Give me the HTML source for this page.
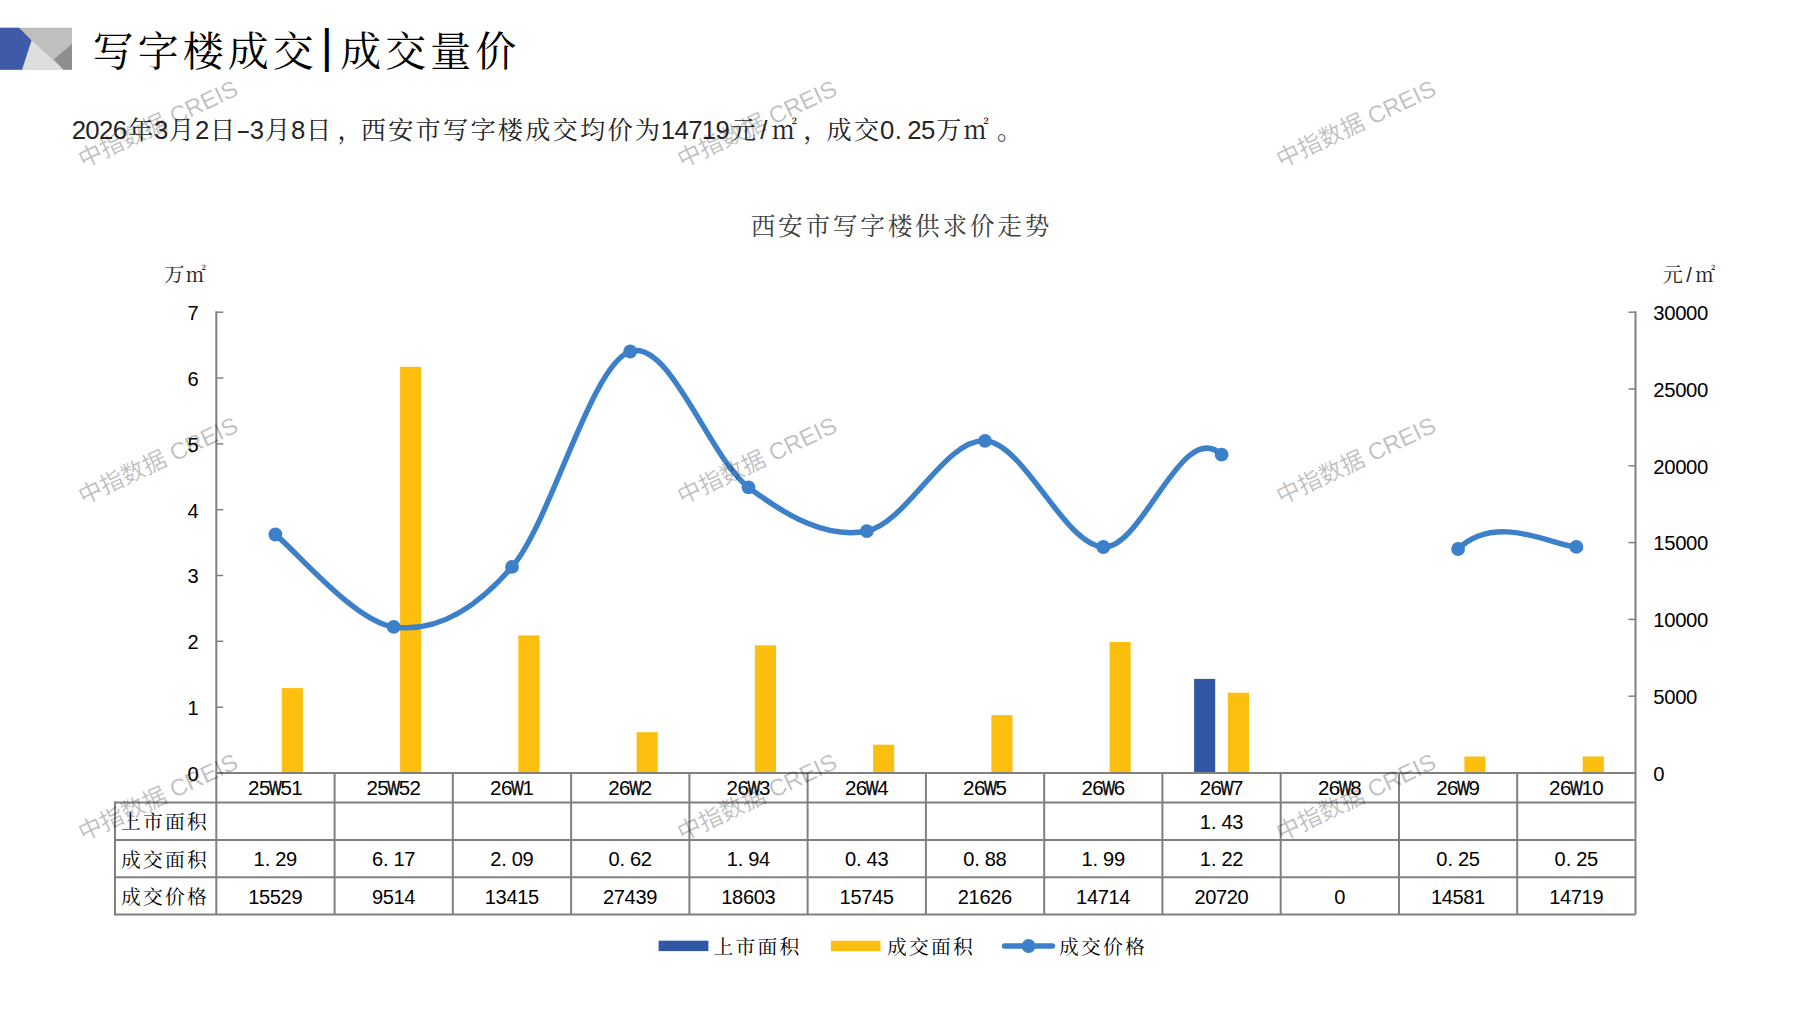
<!DOCTYPE html>
<html lang="zh-CN"><head><meta charset="utf-8"><title>写字楼成交|成交量价</title>
<style>html,body{margin:0;padding:0;background:#fff;}body{width:1797px;height:1010px;overflow:hidden;}svg{display:block;}</style>
</head><body>
<svg width="1797" height="1010" viewBox="0 0 1797 1010">
<rect width="1797" height="1010" fill="#ffffff"/>
<g id="logo">
<rect x="0" y="27.7" width="72" height="42.1" fill="#BFBFBF"/>
<polygon points="31.5,40.2 63.6,69.8 22,69.8" fill="#DEDEDE"/>
<polygon points="72,43.8 53.8,59.5 63.6,69.8 72,69.8" fill="#8E8E8E"/>
<polygon points="0,27.7 19,27.7 31.5,40.2 22,69.8 0,69.8" fill="#3F5AA6"/>
</g>
<g id="title">
<text x="326.9" y="61.5" font-family='"Liberation Sans", "Noto Sans CJK SC", sans-serif' font-size="46.80" fill="#000000" text-anchor="middle">|</text>
<text x="113.1 158.1 203.1 248.1 293.1 360.6 405.6 450.6 495.6" y="65.5" font-family='"Liberation Serif", "Noto Serif CJK SC", serif' font-size="40.95" fill="#000000" text-anchor="middle">写字楼成交成交量价</text>
</g>
<g id="subtitle">
<text transform="translate(243.2,139.0) scale(1.7,1)" font-family='"Liberation Sans", "Noto Sans CJK SC", sans-serif' font-size="25.76" fill="#262626" text-anchor="middle">-</text>
<text x="140.5 181.6 222.7 277.5 318.6 350.1 373.4 400.8 428.2 455.6 483.0 510.4 537.8 565.2 592.6 620.0 647.4 743.3 784.4 815.9 839.2 866.6 948.8 976.2 1009.6" y="139.0" font-family='"Liberation Serif", "Noto Serif CJK SC", serif' font-size="25.21" fill="#262626" text-anchor="middle">年月日月日，西安市写字楼成交均价为元㎡，成交万㎡。</text>
<text x="78.8 92.5 106.2 120.0 161.1 202.2 256.9 298.1 667.9 681.6 695.3 709.0 722.7 763.8 887.1 898.3 914.5 928.2" y="139.0" font-family='"Liberation Sans", "Noto Sans CJK SC", sans-serif' font-size="25.76" fill="#262626" text-anchor="middle">2026323814719/0.25</text>
</g>
<g id="chart-title">
<text x="763.0 790.4 817.8 845.2 872.6 900.0 927.4 954.8 982.2 1009.6 1037.0" y="235.0" font-family='"Liberation Serif", "Noto Serif CJK SC", serif' font-size="24.66" fill="#404040" text-anchor="middle">西安市写字楼供求价走势</text>
</g>
<text x="174.3 195.9" y="282.0" font-family='"Liberation Serif", "Noto Serif CJK SC", serif' font-size="20.09" fill="#262626" text-anchor="middle">万㎡</text>
<text x="1672.8 1705.2" y="282.0" font-family='"Liberation Serif", "Noto Serif CJK SC", serif' font-size="20.09" fill="#262626" text-anchor="middle">元㎡</text>
<text x="1689.0" y="282.0" font-family='"Liberation Sans", "Noto Sans CJK SC", sans-serif' font-size="20.09" fill="#262626" text-anchor="middle">/</text>
<g id="bars">
<rect x="281.8" y="688.1" width="21.1" height="84.9" fill="#FDBF0F"/>
<rect x="400.1" y="366.8" width="21.1" height="406.2" fill="#FDBF0F"/>
<rect x="518.3" y="635.4" width="21.1" height="137.6" fill="#FDBF0F"/>
<rect x="636.6" y="732.2" width="21.1" height="40.8" fill="#FDBF0F"/>
<rect x="754.9" y="645.3" width="21.1" height="127.7" fill="#FDBF0F"/>
<rect x="873.1" y="744.7" width="21.1" height="28.3" fill="#FDBF0F"/>
<rect x="991.4" y="715.1" width="21.1" height="57.9" fill="#FDBF0F"/>
<rect x="1109.6" y="642.0" width="21.1" height="131.0" fill="#FDBF0F"/>
<rect x="1194.1" y="678.9" width="21.1" height="94.1" fill="#2F57A4"/>
<rect x="1227.9" y="692.7" width="21.1" height="80.3" fill="#FDBF0F"/>
<rect x="1464.4" y="756.5" width="21.1" height="16.5" fill="#FDBF0F"/>
<rect x="1582.7" y="756.5" width="21.1" height="16.5" fill="#FDBF0F"/>
</g>
<g id="grid" stroke="#808080" stroke-width="2" fill="none">
<line x1="216.3" y1="311.2" x2="216.3" y2="914.5"/>
<line x1="1635.5" y1="311.2" x2="1635.5" y2="914.5"/>
<line x1="216.3" y1="773.0" x2="1635.5" y2="773.0"/>
<line x1="115.0" y1="802.5" x2="1635.5" y2="802.5"/>
<line x1="115.0" y1="840.0" x2="1635.5" y2="840.0"/>
<line x1="115.0" y1="877.3" x2="1635.5" y2="877.3"/>
<line x1="115.0" y1="914.5" x2="1635.5" y2="914.5"/>
<line x1="115" y1="801.5" x2="115" y2="915.5"/>
<line x1="334.6" y1="773.0" x2="334.6" y2="914.5"/>
<line x1="452.8" y1="773.0" x2="452.8" y2="914.5"/>
<line x1="571.1" y1="773.0" x2="571.1" y2="914.5"/>
<line x1="689.4" y1="773.0" x2="689.4" y2="914.5"/>
<line x1="807.6" y1="773.0" x2="807.6" y2="914.5"/>
<line x1="925.9" y1="773.0" x2="925.9" y2="914.5"/>
<line x1="1044.2" y1="773.0" x2="1044.2" y2="914.5"/>
<line x1="1162.4" y1="773.0" x2="1162.4" y2="914.5"/>
<line x1="1280.7" y1="773.0" x2="1280.7" y2="914.5"/>
<line x1="1399.0" y1="773.0" x2="1399.0" y2="914.5"/>
<line x1="1517.2" y1="773.0" x2="1517.2" y2="914.5"/>
</g>
<g id="ticks" stroke="#808080" stroke-width="1.5">
<line x1="216.3" y1="773.0" x2="223.3" y2="773.0"/>
<line x1="216.3" y1="707.2" x2="223.3" y2="707.2"/>
<line x1="216.3" y1="641.3" x2="223.3" y2="641.3"/>
<line x1="216.3" y1="575.5" x2="223.3" y2="575.5"/>
<line x1="216.3" y1="509.7" x2="223.3" y2="509.7"/>
<line x1="216.3" y1="443.9" x2="223.3" y2="443.9"/>
<line x1="216.3" y1="378.0" x2="223.3" y2="378.0"/>
<line x1="216.3" y1="312.2" x2="223.3" y2="312.2"/>
<line x1="1628.5" y1="773.0" x2="1635.5" y2="773.0"/>
<line x1="1628.5" y1="696.2" x2="1635.5" y2="696.2"/>
<line x1="1628.5" y1="619.4" x2="1635.5" y2="619.4"/>
<line x1="1628.5" y1="542.6" x2="1635.5" y2="542.6"/>
<line x1="1628.5" y1="465.8" x2="1635.5" y2="465.8"/>
<line x1="1628.5" y1="389.0" x2="1635.5" y2="389.0"/>
<line x1="1628.5" y1="312.2" x2="1635.5" y2="312.2"/>
</g>
<g id="axis-labels">
<text x="193.1" y="780.8" font-family='"Liberation Sans", "Noto Sans CJK SC", sans-serif' font-size="20.09" fill="#000000" text-anchor="middle">0</text>
<text x="193.1" y="715.0" font-family='"Liberation Sans", "Noto Sans CJK SC", sans-serif' font-size="20.09" fill="#000000" text-anchor="middle">1</text>
<text x="193.1" y="649.1" font-family='"Liberation Sans", "Noto Sans CJK SC", sans-serif' font-size="20.09" fill="#000000" text-anchor="middle">2</text>
<text x="193.1" y="583.3" font-family='"Liberation Sans", "Noto Sans CJK SC", sans-serif' font-size="20.09" fill="#000000" text-anchor="middle">3</text>
<text x="193.1" y="517.5" font-family='"Liberation Sans", "Noto Sans CJK SC", sans-serif' font-size="20.09" fill="#000000" text-anchor="middle">4</text>
<text x="193.1" y="451.7" font-family='"Liberation Sans", "Noto Sans CJK SC", sans-serif' font-size="20.09" fill="#000000" text-anchor="middle">5</text>
<text x="193.1" y="385.8" font-family='"Liberation Sans", "Noto Sans CJK SC", sans-serif' font-size="20.09" fill="#000000" text-anchor="middle">6</text>
<text x="193.1" y="320.0" font-family='"Liberation Sans", "Noto Sans CJK SC", sans-serif' font-size="20.09" fill="#000000" text-anchor="middle">7</text>
<text x="1659.0" y="780.8" font-family='"Liberation Sans", "Noto Sans CJK SC", sans-serif' font-size="20.27" fill="#000000" text-anchor="middle">0</text>
<text x="1659.0 1669.9 1680.8 1691.7" y="704.0" font-family='"Liberation Sans", "Noto Sans CJK SC", sans-serif' font-size="20.27" fill="#000000" text-anchor="middle">5000</text>
<text x="1659.0 1669.9 1680.8 1691.7 1702.6" y="627.2" font-family='"Liberation Sans", "Noto Sans CJK SC", sans-serif' font-size="20.27" fill="#000000" text-anchor="middle">10000</text>
<text x="1659.0 1669.9 1680.8 1691.7 1702.6" y="550.4" font-family='"Liberation Sans", "Noto Sans CJK SC", sans-serif' font-size="20.27" fill="#000000" text-anchor="middle">15000</text>
<text x="1659.0 1669.9 1680.8 1691.7 1702.6" y="473.6" font-family='"Liberation Sans", "Noto Sans CJK SC", sans-serif' font-size="20.27" fill="#000000" text-anchor="middle">20000</text>
<text x="1659.0 1669.9 1680.8 1691.7 1702.6" y="396.8" font-family='"Liberation Sans", "Noto Sans CJK SC", sans-serif' font-size="20.27" fill="#000000" text-anchor="middle">25000</text>
<text x="1659.0 1669.9 1680.8 1691.7 1702.6" y="320.0" font-family='"Liberation Sans", "Noto Sans CJK SC", sans-serif' font-size="20.27" fill="#000000" text-anchor="middle">30000</text>
</g>
<g id="price-line">
<path d="M275.4,534.5 C295.1,549.9 354.3,621.5 393.7,626.9 C433.1,632.3 472.5,612.8 512.0,566.9 C551.4,521.1 590.8,364.8 630.2,351.5 C669.7,338.3 709.1,457.3 748.5,487.3 C787.9,517.2 827.3,538.9 866.8,531.2 C906.2,523.4 945.6,438.2 985.0,440.8 C1024.5,443.5 1063.9,544.7 1103.3,547.0 C1142.7,549.3 1182.1,417.1 1221.6,454.7" fill="none" stroke="#3B80C9" stroke-width="5.4" stroke-linecap="round" stroke-linejoin="round"/>
<path d="M1458.1,549.0 C1497.5,511.4 1556.7,547.3 1576.4,546.9" fill="none" stroke="#3B80C9" stroke-width="5.4" stroke-linecap="round" stroke-linejoin="round"/>
<circle cx="275.4" cy="534.5" r="6.9" fill="#3B80C9"/>
<circle cx="393.7" cy="626.9" r="6.9" fill="#3B80C9"/>
<circle cx="512.0" cy="566.9" r="6.9" fill="#3B80C9"/>
<circle cx="630.2" cy="351.5" r="6.9" fill="#3B80C9"/>
<circle cx="748.5" cy="487.3" r="6.9" fill="#3B80C9"/>
<circle cx="866.8" cy="531.2" r="6.9" fill="#3B80C9"/>
<circle cx="985.0" cy="440.8" r="6.9" fill="#3B80C9"/>
<circle cx="1103.3" cy="547.0" r="6.9" fill="#3B80C9"/>
<circle cx="1221.6" cy="454.7" r="6.9" fill="#3B80C9"/>
<circle cx="1458.1" cy="549.0" r="6.9" fill="#3B80C9"/>
<circle cx="1576.4" cy="546.9" r="6.9" fill="#3B80C9"/>
</g>
<g id="table-text">
<text transform="translate(275.4,795.0) scale(0.66,1)" font-family='"Liberation Sans", "Noto Sans CJK SC", sans-serif' font-size="20.52" fill="#000000" stroke="#000000" stroke-width="0.7" text-anchor="middle">W</text>
<text x="253.8 264.6 286.2 297.0" y="795.0" font-family='"Liberation Sans", "Noto Sans CJK SC", sans-serif' font-size="20.52" fill="#000000" text-anchor="middle">2551</text>
<text x="259.2 267.5 280.8 291.6" y="866.4" font-family='"Liberation Sans", "Noto Sans CJK SC", sans-serif' font-size="20.09" fill="#000000" text-anchor="middle">1.29</text>
<text x="253.8 264.6 275.4 286.2 297.0" y="903.6" font-family='"Liberation Sans", "Noto Sans CJK SC", sans-serif' font-size="20.09" fill="#000000" text-anchor="middle">15529</text>
<text transform="translate(393.7,795.0) scale(0.66,1)" font-family='"Liberation Sans", "Noto Sans CJK SC", sans-serif' font-size="20.52" fill="#000000" stroke="#000000" stroke-width="0.7" text-anchor="middle">W</text>
<text x="372.1 382.9 404.5 415.3" y="795.0" font-family='"Liberation Sans", "Noto Sans CJK SC", sans-serif' font-size="20.52" fill="#000000" text-anchor="middle">2552</text>
<text x="377.5 385.8 399.1 409.9" y="866.4" font-family='"Liberation Sans", "Noto Sans CJK SC", sans-serif' font-size="20.09" fill="#000000" text-anchor="middle">6.17</text>
<text x="377.5 388.3 399.1 409.9" y="903.6" font-family='"Liberation Sans", "Noto Sans CJK SC", sans-serif' font-size="20.09" fill="#000000" text-anchor="middle">9514</text>
<text transform="translate(517.4,795.0) scale(0.66,1)" font-family='"Liberation Sans", "Noto Sans CJK SC", sans-serif' font-size="20.52" fill="#000000" stroke="#000000" stroke-width="0.7" text-anchor="middle">W</text>
<text x="495.8 506.6 528.2" y="795.0" font-family='"Liberation Sans", "Noto Sans CJK SC", sans-serif' font-size="20.52" fill="#000000" text-anchor="middle">261</text>
<text x="495.8 504.1 517.4 528.2" y="866.4" font-family='"Liberation Sans", "Noto Sans CJK SC", sans-serif' font-size="20.09" fill="#000000" text-anchor="middle">2.09</text>
<text x="490.4 501.2 512.0 522.8 533.6" y="903.6" font-family='"Liberation Sans", "Noto Sans CJK SC", sans-serif' font-size="20.09" fill="#000000" text-anchor="middle">13415</text>
<text transform="translate(635.6,795.0) scale(0.66,1)" font-family='"Liberation Sans", "Noto Sans CJK SC", sans-serif' font-size="20.52" fill="#000000" stroke="#000000" stroke-width="0.7" text-anchor="middle">W</text>
<text x="614.0 624.8 646.4" y="795.0" font-family='"Liberation Sans", "Noto Sans CJK SC", sans-serif' font-size="20.52" fill="#000000" text-anchor="middle">262</text>
<text x="614.0 622.3 635.6 646.4" y="866.4" font-family='"Liberation Sans", "Noto Sans CJK SC", sans-serif' font-size="20.09" fill="#000000" text-anchor="middle">0.62</text>
<text x="608.6 619.4 630.2 641.0 651.8" y="903.6" font-family='"Liberation Sans", "Noto Sans CJK SC", sans-serif' font-size="20.09" fill="#000000" text-anchor="middle">27439</text>
<text transform="translate(753.9,795.0) scale(0.66,1)" font-family='"Liberation Sans", "Noto Sans CJK SC", sans-serif' font-size="20.52" fill="#000000" stroke="#000000" stroke-width="0.7" text-anchor="middle">W</text>
<text x="732.3 743.1 764.7" y="795.0" font-family='"Liberation Sans", "Noto Sans CJK SC", sans-serif' font-size="20.52" fill="#000000" text-anchor="middle">263</text>
<text x="732.3 740.6 753.9 764.7" y="866.4" font-family='"Liberation Sans", "Noto Sans CJK SC", sans-serif' font-size="20.09" fill="#000000" text-anchor="middle">1.94</text>
<text x="726.9 737.7 748.5 759.3 770.1" y="903.6" font-family='"Liberation Sans", "Noto Sans CJK SC", sans-serif' font-size="20.09" fill="#000000" text-anchor="middle">18603</text>
<text transform="translate(872.2,795.0) scale(0.66,1)" font-family='"Liberation Sans", "Noto Sans CJK SC", sans-serif' font-size="20.52" fill="#000000" stroke="#000000" stroke-width="0.7" text-anchor="middle">W</text>
<text x="850.6 861.4 883.0" y="795.0" font-family='"Liberation Sans", "Noto Sans CJK SC", sans-serif' font-size="20.52" fill="#000000" text-anchor="middle">264</text>
<text x="850.6 858.9 872.2 883.0" y="866.4" font-family='"Liberation Sans", "Noto Sans CJK SC", sans-serif' font-size="20.09" fill="#000000" text-anchor="middle">0.43</text>
<text x="845.2 856.0 866.8 877.6 888.4" y="903.6" font-family='"Liberation Sans", "Noto Sans CJK SC", sans-serif' font-size="20.09" fill="#000000" text-anchor="middle">15745</text>
<text transform="translate(990.4,795.0) scale(0.66,1)" font-family='"Liberation Sans", "Noto Sans CJK SC", sans-serif' font-size="20.52" fill="#000000" stroke="#000000" stroke-width="0.7" text-anchor="middle">W</text>
<text x="968.8 979.6 1001.2" y="795.0" font-family='"Liberation Sans", "Noto Sans CJK SC", sans-serif' font-size="20.52" fill="#000000" text-anchor="middle">265</text>
<text x="968.8 977.1 990.4 1001.2" y="866.4" font-family='"Liberation Sans", "Noto Sans CJK SC", sans-serif' font-size="20.09" fill="#000000" text-anchor="middle">0.88</text>
<text x="963.4 974.2 985.0 995.8 1006.6" y="903.6" font-family='"Liberation Sans", "Noto Sans CJK SC", sans-serif' font-size="20.09" fill="#000000" text-anchor="middle">21626</text>
<text transform="translate(1108.7,795.0) scale(0.66,1)" font-family='"Liberation Sans", "Noto Sans CJK SC", sans-serif' font-size="20.52" fill="#000000" stroke="#000000" stroke-width="0.7" text-anchor="middle">W</text>
<text x="1087.1 1097.9 1119.5" y="795.0" font-family='"Liberation Sans", "Noto Sans CJK SC", sans-serif' font-size="20.52" fill="#000000" text-anchor="middle">266</text>
<text x="1087.1 1095.4 1108.7 1119.5" y="866.4" font-family='"Liberation Sans", "Noto Sans CJK SC", sans-serif' font-size="20.09" fill="#000000" text-anchor="middle">1.99</text>
<text x="1081.7 1092.5 1103.3 1114.1 1124.9" y="903.6" font-family='"Liberation Sans", "Noto Sans CJK SC", sans-serif' font-size="20.09" fill="#000000" text-anchor="middle">14714</text>
<text transform="translate(1227.0,795.0) scale(0.66,1)" font-family='"Liberation Sans", "Noto Sans CJK SC", sans-serif' font-size="20.52" fill="#000000" stroke="#000000" stroke-width="0.7" text-anchor="middle">W</text>
<text x="1205.4 1216.2 1237.8" y="795.0" font-family='"Liberation Sans", "Noto Sans CJK SC", sans-serif' font-size="20.52" fill="#000000" text-anchor="middle">267</text>
<text x="1205.4 1213.7 1227.0 1237.8" y="828.6" font-family='"Liberation Sans", "Noto Sans CJK SC", sans-serif' font-size="20.09" fill="#000000" text-anchor="middle">1.43</text>
<text x="1205.4 1213.7 1227.0 1237.8" y="866.4" font-family='"Liberation Sans", "Noto Sans CJK SC", sans-serif' font-size="20.09" fill="#000000" text-anchor="middle">1.22</text>
<text x="1200.0 1210.8 1221.6 1232.4 1243.2" y="903.6" font-family='"Liberation Sans", "Noto Sans CJK SC", sans-serif' font-size="20.09" fill="#000000" text-anchor="middle">20720</text>
<text transform="translate(1345.2,795.0) scale(0.66,1)" font-family='"Liberation Sans", "Noto Sans CJK SC", sans-serif' font-size="20.52" fill="#000000" stroke="#000000" stroke-width="0.7" text-anchor="middle">W</text>
<text x="1323.6 1334.4 1356.0" y="795.0" font-family='"Liberation Sans", "Noto Sans CJK SC", sans-serif' font-size="20.52" fill="#000000" text-anchor="middle">268</text>
<text x="1339.8" y="903.6" font-family='"Liberation Sans", "Noto Sans CJK SC", sans-serif' font-size="20.09" fill="#000000" text-anchor="middle">0</text>
<text transform="translate(1463.5,795.0) scale(0.66,1)" font-family='"Liberation Sans", "Noto Sans CJK SC", sans-serif' font-size="20.52" fill="#000000" stroke="#000000" stroke-width="0.7" text-anchor="middle">W</text>
<text x="1441.9 1452.7 1474.3" y="795.0" font-family='"Liberation Sans", "Noto Sans CJK SC", sans-serif' font-size="20.52" fill="#000000" text-anchor="middle">269</text>
<text x="1441.9 1450.2 1463.5 1474.3" y="866.4" font-family='"Liberation Sans", "Noto Sans CJK SC", sans-serif' font-size="20.09" fill="#000000" text-anchor="middle">0.25</text>
<text x="1436.5 1447.3 1458.1 1468.9 1479.7" y="903.6" font-family='"Liberation Sans", "Noto Sans CJK SC", sans-serif' font-size="20.09" fill="#000000" text-anchor="middle">14581</text>
<text transform="translate(1576.4,795.0) scale(0.66,1)" font-family='"Liberation Sans", "Noto Sans CJK SC", sans-serif' font-size="20.52" fill="#000000" stroke="#000000" stroke-width="0.7" text-anchor="middle">W</text>
<text x="1554.8 1565.6 1587.2 1598.0" y="795.0" font-family='"Liberation Sans", "Noto Sans CJK SC", sans-serif' font-size="20.52" fill="#000000" text-anchor="middle">2610</text>
<text x="1560.2 1568.5 1581.8 1592.6" y="866.4" font-family='"Liberation Sans", "Noto Sans CJK SC", sans-serif' font-size="20.09" fill="#000000" text-anchor="middle">0.25</text>
<text x="1554.8 1565.6 1576.4 1587.2 1598.0" y="903.6" font-family='"Liberation Sans", "Noto Sans CJK SC", sans-serif' font-size="20.09" fill="#000000" text-anchor="middle">14719</text>
<text x="131.0 153.0 175.0 197.0" y="829.0" font-family='"Liberation Serif", "Noto Serif CJK SC", serif' font-size="19.80" fill="#000000" text-anchor="middle">上市面积</text>
<text x="131.0 153.0 175.0 197.0" y="866.8" font-family='"Liberation Serif", "Noto Serif CJK SC", serif' font-size="19.80" fill="#000000" text-anchor="middle">成交面积</text>
<text x="131.0 153.0 175.0 197.0" y="904.0" font-family='"Liberation Serif", "Noto Serif CJK SC", serif' font-size="19.80" fill="#000000" text-anchor="middle">成交价格</text>
</g>
<g id="legend">
<rect x="658.6" y="940.7" width="49.8" height="10.4" fill="#2F57A4"/>
<text x="723.5 745.5 767.5 789.5" y="953.6" font-family='"Liberation Serif", "Noto Serif CJK SC", serif' font-size="19.80" fill="#000000" text-anchor="middle">上市面积</text>
<rect x="830.9" y="940.7" width="49.6" height="10.4" fill="#FDBF0F"/>
<text x="897.0 919.0 941.0 963.0" y="953.6" font-family='"Liberation Serif", "Noto Serif CJK SC", serif' font-size="19.80" fill="#000000" text-anchor="middle">成交面积</text>
<line x1="1004.5" y1="946" x2="1052.5" y2="946" stroke="#3B80C9" stroke-width="5.4" stroke-linecap="round"/>
<circle cx="1028.6" cy="946" r="6.9" fill="#3B80C9"/>
<text x="1069.0 1091.0 1113.0 1135.0" y="953.6" font-family='"Liberation Serif", "Noto Serif CJK SC", serif' font-size="19.80" fill="#000000" text-anchor="middle">成交价格</text>
</g>
<g id="watermarks" font-family='"Liberation Sans", "Noto Sans CJK SC", sans-serif' font-size="23.6" fill="#000000" fill-opacity="0.25" text-anchor="middle">
<text transform="translate(158.0,124.0) rotate(-25.3)" x="0" y="8">中指数据 CREIS</text>
<text transform="translate(757.0,124.0) rotate(-25.3)" x="0" y="8">中指数据 CREIS</text>
<text transform="translate(1356.0,124.0) rotate(-25.3)" x="0" y="8">中指数据 CREIS</text>
<text transform="translate(158.0,460.7) rotate(-25.3)" x="0" y="8">中指数据 CREIS</text>
<text transform="translate(757.0,460.7) rotate(-25.3)" x="0" y="8">中指数据 CREIS</text>
<text transform="translate(1356.0,460.7) rotate(-25.3)" x="0" y="8">中指数据 CREIS</text>
<text transform="translate(158.0,797.3) rotate(-25.3)" x="0" y="8">中指数据 CREIS</text>
<text transform="translate(757.0,797.3) rotate(-25.3)" x="0" y="8">中指数据 CREIS</text>
<text transform="translate(1356.0,797.3) rotate(-25.3)" x="0" y="8">中指数据 CREIS</text>
</g>
</svg></body></html>
